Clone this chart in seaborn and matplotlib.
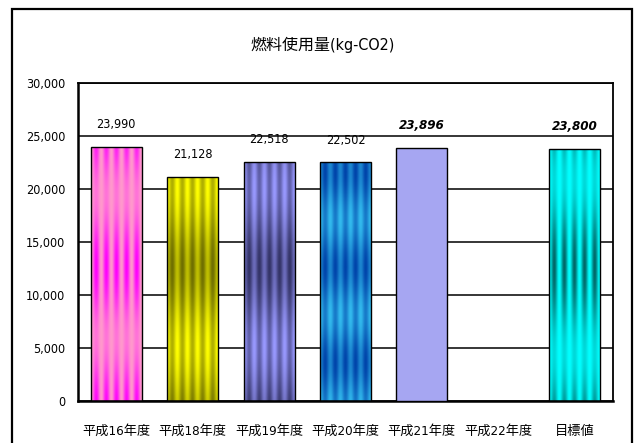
import numpy as np
import pandas as pd
import seaborn as sns
from matplotlib import pyplot as plt
from matplotlib.patches import Rectangle
from matplotlib.colors import to_rgb

sns.set_style("white")
# latin glyphs from DejaVu (condensed), kanji fall back to the CJK family
plt.rcParams['font.family'] = ['DejaVu Sans', 'Noto Sans CJK JP']
plt.rcParams['font.stretch'] = 'condensed'
plt.rcParams['text.color'] = 'black'
plt.rcParams['xtick.color'] = 'black'
plt.rcParams['ytick.color'] = 'black'

categories = ["平成16年度", "平成18年度", "平成19年度", "平成20年度", "平成21年度", "平成22年度", "目標値"]
usage = [23990, 21128, 22518, 22502, 23896, np.nan, 23800]
emphasis = [False, False, False, False, True, False, True]
yticks = [0, 5000, 10000, 15000, 20000, 25000, 30000]

# light colour, dark colour, mix mode, band period (fraction of 30000)
FILLS = {
    "平成16年度": ("#FF99CC", "#FF00FF", "prod", 0.45),
    "平成18年度": ("#FFFF00", "#6E6E00", "sum", 0.50),
    "平成19年度": ("#9999FF", "#333366", "sum", 0.50),
    "平成20年度": ("#33BBEE", "#0044AA", "sum", 0.30),
    "平成21年度": None,
    "平成22年度": None,
    "目標値": ("#00FFFF", "#006666", "prod", 0.55),
}
BASE = ["#FF99CC", "#CCCC00", "#6666AA", "#0077DD", "#9999FF", "#FFFFFF", "#00FFFF"]

df = pd.DataFrame({"category": categories, "usage": usage})

fig = plt.figure(figsize=(6.36, 4.43), dpi=100)
ax = fig.add_axes([0.1226, 0.0948, 0.8412, 0.7178])

sns.barplot(
    data=df,
    x="category",
    y="usage",
    hue="category",
    order=categories,
    hue_order=categories,
    palette=BASE,
    legend=False,
    width=0.667,
    edgecolor="black",
    linewidth=1.0,
    ax=ax,
)

ax.set_axisbelow(True)
ax.set_ylim(0, 30000)
ax.set_xlim(-0.5, len(categories) - 0.5)
ax.set_yticks(yticks)
ax.set_yticklabels([f"{v:,}" for v in yticks])
ax.yaxis.grid(True, color="black", lw=1.1)
ax.set_xlabel("")
ax.set_ylabel("")
for s in ax.spines.values():
    s.set_visible(True)
    s.set_color("black")
    s.set_linewidth(1.3)
ax.spines["left"].set_linewidth(1.8)
ax.spines["bottom"].set_linewidth(1.8)
ax.tick_params(axis="y", length=0, pad=9, labelsize=9)
ax.tick_params(axis="x", which="major", length=0, pad=17, labelsize=9.5)
ax.set_xticks(np.arange(0.5, len(categories) - 1, 1.0), minor=True)
ax.tick_params(axis="x", which="minor", direction="in", length=5, width=1.0, color="black")

# gradient fills clipped to the bars
for patch in list(ax.patches):
    h = patch.get_height()
    if not np.isfinite(h) or h <= 0:
        continue
    idx = int(round(patch.get_x() + patch.get_width() / 2))
    fill = FILLS[categories[idx]]
    patch.set_zorder(3)
    if fill is None:
        continue
    light, dark, mode, period = fill
    xs = np.linspace(0, 1, 120)
    ys = np.linspace(0, h / 30000, 300)
    X, Y = np.meshgrid(xs, ys)
    stripe = 0.5 - 0.5 * np.cos(2 * np.pi * 5 * X)
    band = 0.5 + 0.5 * np.cos(2 * np.pi * (Y - 0.42) / period)
    if mode == "prod":
        w = stripe * (0.25 + 0.75 * band)
    else:
        w = 0.55 * stripe + 0.45 * band
    w = np.clip(w, 0, 1)[..., None]
    img = np.array(to_rgb(light)) * (1 - w) + np.array(to_rgb(dark)) * w
    x0 = patch.get_x()
    im = ax.imshow(
        img,
        extent=[x0, x0 + patch.get_width(), 0, h],
        origin="lower",
        aspect="auto",
        zorder=2.5,
        interpolation="bilinear",
    )
    im.set_clip_path(patch)
    patch.set_facecolor("none")

ax.set_ylim(0, 30000)
ax.set_xlim(-0.5, len(categories) - 0.5)

# value labels
for patch in ax.patches:
    h = patch.get_height()
    if not np.isfinite(h) or h <= 0:
        continue
    idx = int(round(patch.get_x() + patch.get_width() / 2))
    bold = emphasis[idx]
    ax.annotate(
        f"{usage[idx]:,.0f}",
        xy=(idx, h),
        xytext=(0, 11.5),
        textcoords="offset points",
        ha="center",
        va="bottom",
        fontsize=9.5 if bold else 9,
        fontweight="bold" if bold else "normal",
        fontstyle="italic" if bold else "normal",
        annotation_clip=False,
        zorder=5,
    )

fig.text(0.507, 0.898, "燃料使用量(kg-CO2)", ha="center", va="center", fontsize=11.5)

# chart frame
frame = Rectangle((12 / 636, -0.05), 620 / 636, 1.05 - 9 / 443, transform=fig.transFigure,
                  fill=False, edgecolor="black", lw=1.6)
fig.patches.append(frame)

fig.savefig("out.png", dpi=100)
